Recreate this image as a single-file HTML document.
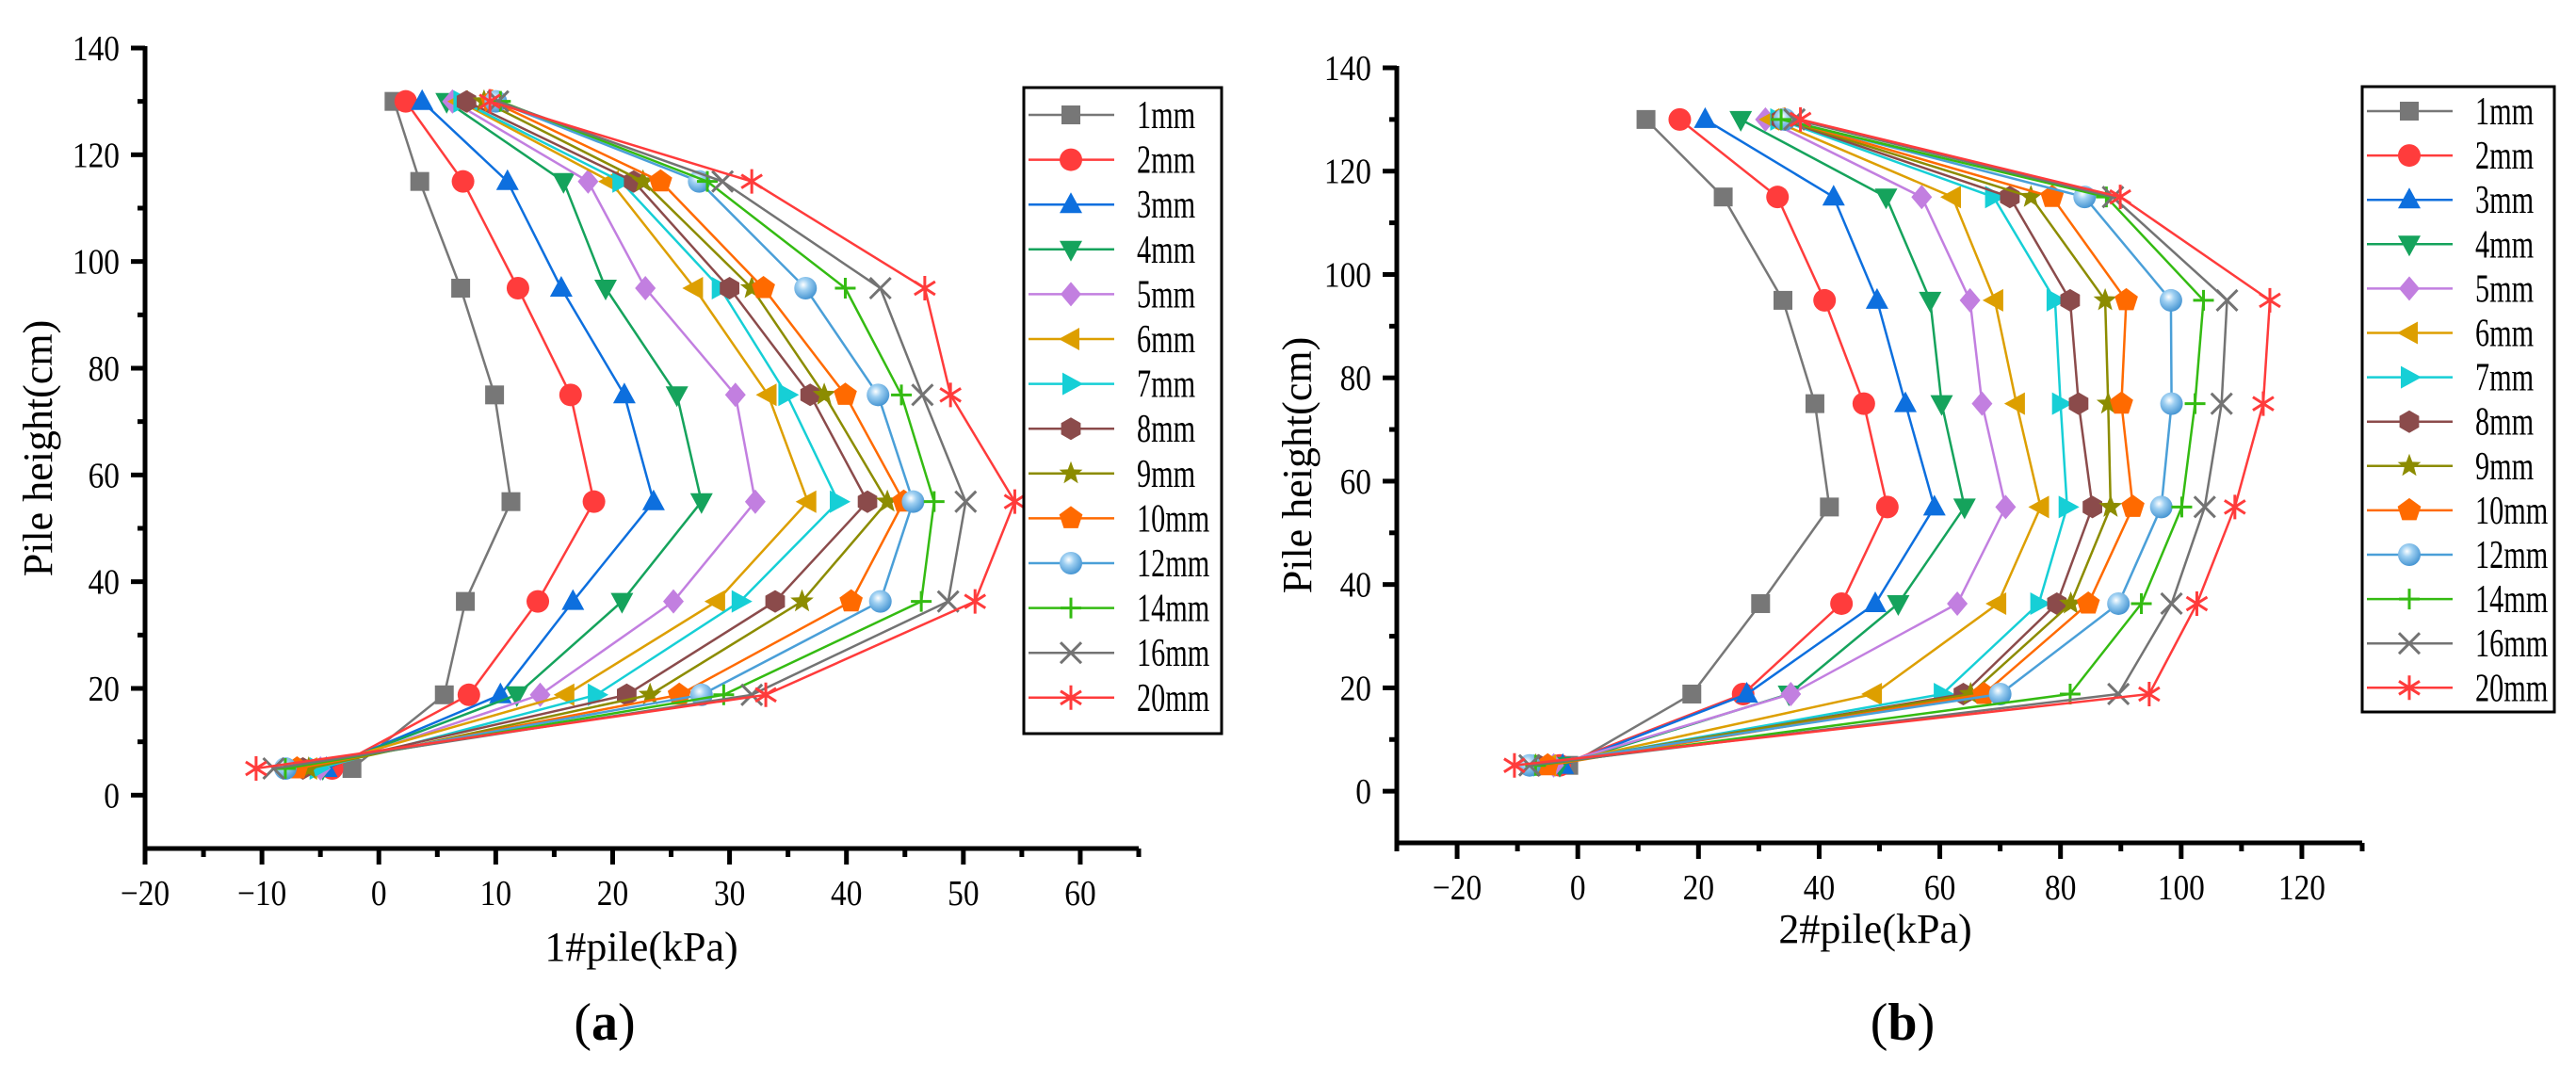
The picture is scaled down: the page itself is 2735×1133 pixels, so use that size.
<!DOCTYPE html>
<html><head><meta charset="utf-8"><title>Pile pressure charts</title>
<style>
html,body{margin:0;padding:0;background:#fff;}
svg{display:block;}
text{font-family:"Liberation Serif",serif;fill:#000;}
</style></head>
<body>
<svg id="chart" width="2735" height="1133" viewBox="0 0 2735 1133" xmlns="http://www.w3.org/2000/svg">
<defs>
<radialGradient id="sph" cx="0.4" cy="0.35" r="0.7">
<stop offset="0" stop-color="#ffffff"/><stop offset="0.35" stop-color="#9fd0f2"/><stop offset="1" stop-color="#3d8fcf"/>
</radialGradient>
</defs>
</svg>
<script>
// ---- shared data ----
const heights = [130, 115, 95, 75, 55, 36.3, 18.8, 5];
const seriesNames = ['1mm','2mm','3mm','4mm','5mm','6mm','7mm','8mm','9mm','10mm','12mm','14mm','16mm','20mm'];
// ---- panel (a): 1#pile values (kPa) ----
const a1mm = [1.3, 3.5, 7.0, 9.9, 11.3, 7.4, 5.6, -2.3];
const a2mm = [2.3, 7.2, 11.9, 16.4, 18.4, 13.6, 7.7, -4.0];
const a3mm = [3.7, 11.0, 15.6, 21.0, 23.5, 16.6, 10.4, -4.5];
const a4mm = [5.8, 15.8, 19.4, 25.5, 27.6, 20.8, 11.8, -4.8];
const a5mm = [6.3, 17.9, 22.8, 30.5, 32.2, 25.2, 13.8, -5.0];
const a6mm = [6.9, 19.8, 27.0, 33.3, 36.7, 28.9, 16.0, -6.0];
const a7mm = [7.1, 20.7, 29.2, 34.9, 39.3, 30.9, 18.6, -5.2];
const a8mm = [7.5, 21.8, 30.0, 36.9, 41.8, 33.9, 21.2, -6.5];
const a9mm = [9.0, 22.6, 31.9, 38.1, 43.5, 36.2, 23.2, -6.0];
const a10mm = [9.7, 24.1, 32.9, 39.9, 44.9, 40.4, 25.7, -7.0];
const a12mm = [10.0, 27.4, 36.5, 42.7, 45.7, 42.9, 27.6, -8.0];
const a14mm = [10.4, 28.1, 39.9, 44.7, 47.5, 46.4, 29.5, -8.0];
const a16mm = [10.2, 29.4, 42.9, 46.5, 50.2, 48.7, 31.9, -9.0];
const a20mm = [9.5, 31.9, 46.7, 48.9, 54.4, 51.0, 33.1, -10.5];
// ---- panel (b): 2#pile values (kPa) ----
const b1mm = [11.3, 24.1, 34.0, 39.3, 41.7, 30.3, 18.9, -1.5];
const b2mm = [16.9, 33.1, 40.9, 47.4, 51.3, 43.7, 27.4, -3.0];
const b3mm = [21.1, 42.4, 49.6, 54.3, 59.1, 49.3, 28.0, -2.5];
const b4mm = [27.0, 51.1, 58.4, 60.3, 64.1, 53.1, 35.0, -3.0];
const b5mm = [31.1, 57.0, 65.0, 67.0, 70.9, 62.9, 35.3, -4.0];
const b6mm = [32.0, 62.1, 69.1, 72.7, 76.7, 69.6, 49.0, -5.0];
const b7mm = [33.3, 68.9, 79.1, 80.0, 81.1, 76.4, 60.4, -6.0];
const b8mm = [33.7, 71.6, 81.6, 83.0, 85.3, 79.4, 63.9, -6.5];
const b9mm = [34.0, 75.1, 87.4, 87.9, 88.3, 81.7, 65.1, -7.0];
const b10mm = [34.3, 78.6, 90.9, 90.1, 92.0, 84.6, 67.3, -5.0];
const b12mm = [34.3, 84.0, 98.3, 98.4, 96.7, 89.6, 70.0, -8.0];
const b14mm = [33.7, 87.6, 103.7, 102.3, 100.1, 93.4, 81.6, -7.0];
const b16mm = [35.9, 88.7, 107.6, 106.7, 103.9, 98.4, 89.6, -8.0];
const b20mm = [36.9, 89.9, 114.7, 113.6, 108.9, 102.6, 94.7, -10.5];
const aTicksX = [-20,-10,0,10,20,30,40,50,60];
const bTicksX = [-20,0,20,40,60,80,100,120];
const ticksY = [0,20,40,60,80,100,120,140];

const colors = ['#777777','#ff3c3c','#0d6fde','#15a35c','#c27fe0','#dd9f00','#16cfd6','#8b4b4b','#8c8c00','#ff6a00','#4a9fd8','#34bb12','#737373','#ff3b3b'];
const shapes = ['square','circle','up','down','diamond','left','right','hex','star','pent','sphere','plus','x','ast'];

const NS='http://www.w3.org/2000/svg';
const FF='"Liberation Serif", serif';
const svg=document.getElementById('chart');
function el(tag,attrs,parent){const e=document.createElementNS(NS,tag);for(const k in attrs)e.setAttribute(k,attrs[k]);(parent||svg).appendChild(e);return e;}
function txt(s,x,y,size,anchor,sx,parent){const t=el('text',{transform:`translate(${x},${y}) scale(${sx},1)`,x:0,y:0,'font-size':size,'text-anchor':anchor,'font-family':FF},parent);t.textContent=s;return t;}
function poly(pts){return pts.map(p=>p[0].toFixed(1)+','+p[1].toFixed(1)).join(' ');}
function regular(n,cx,cy,r,rot){const a=[];for(let i=0;i<n;i++){const t=rot+i*2*Math.PI/n;a.push([cx+r*Math.cos(t),cy+r*Math.sin(t)]);}return a;}

function marker(g,shape,cx,cy,c){
  switch(shape){
    case 'square': return el('rect',{x:cx-10,y:cy-10,width:20,height:20,fill:c},g);
    case 'circle': return el('circle',{cx,cy,r:12,fill:c},g);
    case 'up': return el('polygon',{points:poly([[cx,cy-13],[cx+12,cy+9],[cx-12,cy+9]]),fill:c},g);
    case 'down': return el('polygon',{points:poly([[cx,cy+13],[cx+12,cy-9],[cx-12,cy-9]]),fill:c},g);
    case 'left': return el('polygon',{points:poly([[cx-13,cy],[cx+9,cy-12],[cx+9,cy+12]]),fill:c},g);
    case 'right': return el('polygon',{points:poly([[cx+13,cy],[cx-9,cy-12],[cx-9,cy+12]]),fill:c},g);
    case 'diamond': return el('polygon',{points:poly([[cx,cy-13],[cx+11,cy],[cx,cy+13],[cx-11,cy]]),fill:c},g);
    case 'hex': return el('polygon',{points:poly(regular(6,cx,cy,12,-Math.PI/2)),fill:c},g);
    case 'pent': return el('polygon',{points:poly(regular(5,cx,cy,13,-Math.PI/2)),fill:c},g);
    case 'star': {const p=[];for(let i=0;i<10;i++){const rr=i%2?5.5:13;const t=-Math.PI/2+i*Math.PI/5;p.push([cx+rr*Math.cos(t),cy+rr*Math.sin(t)]);}return el('polygon',{points:poly(p),fill:c},g);}
    case 'sphere': return el('circle',{cx,cy,r:12,fill:'url(#sph)'},g);
    case 'plus': return el('path',{d:`M${cx-11},${cy}H${cx+11}M${cx},${cy-11}V${cy+11}`,stroke:c,'stroke-width':3,fill:'none'},g);
    case 'x': return el('path',{d:`M${cx-11},${cy-11}L${cx+11},${cy+11}M${cx-11},${cy+11}L${cx+11},${cy-11}`,stroke:c,'stroke-width':3,fill:'none'},g);
    case 'ast': return el('path',{d:`M${cx},${cy-13}V${cy+13}M${cx-11},${cy-7}L${cx+11},${cy+7}M${cx-11},${cy+7}L${cx+11},${cy-7}`,stroke:c,'stroke-width':3,fill:'none'},g);
  }
}

function drawPanel(p){
  const g=el('g',{});
  
  
  const X=v=>p.x0+(v-p.xmin)*(p.x1-p.x0)/(p.xmax-p.xmin);
  const Y=v=>p.y0-(v-p.ymin)*(p.y0-p.y1)/(p.ymax-p.ymin);
  const ax=el('g',{},g);
  
  
  el('line',{x1:p.x0,y1:p.y0,x2:p.x1,y2:p.y0,stroke:'#000','stroke-width':5},ax);
  el('line',{x1:p.x0,y1:p.y0+2.5,x2:p.x0,y2:p.y1-2,stroke:'#000','stroke-width':5},ax);
  for(let v=p.xmin;v<=p.xmax+1e-6;v+=p.xminor){
    const major=p.ticksX.includes(Math.round(v*100)/100);
    el('line',{x1:X(v),y1:p.y0,x2:X(v),y2:p.y0+(major?17:9),stroke:'#000','stroke-width':5},ax);
  }
  p.ticksX.forEach(v=>{const t=txt(v<0?'\u2212'+Math.abs(v):String(v),X(v),p.y0+60,38,'middle',0.88,ax);});
  for(let v=0;v<=p.ymax;v+=10){
    const major=v%20===0;
    el('line',{x1:p.x0,y1:Y(v),x2:p.x0-(major?15:8),y2:Y(v),stroke:'#000','stroke-width':5},ax);
  }
  ticksY.forEach(v=>{const t=txt(String(v),p.x0-27,Y(v)+13,38,'end',0.88,ax);});
  const xt=txt(p.xtitle,p.xtx,p.xty,44,'middle',1,g);
  
  
  const yt=el('text',{transform:`translate(${p.ytx},${p.yty}) rotate(-90)`,x:0,y:0,'font-size':44,'text-anchor':'middle','font-family':FF},g);
  yt.textContent='Pile height(cm)';
  
  
  const cap=el('text',{x:p.capx,y:p.capy,'font-size':56,'text-anchor':'middle','font-family':FF},g);
  cap.innerHTML='(<tspan font-weight="bold">'+p.cap+'</tspan>)';
  
  
  p.series.forEach((vals,i)=>{
    const sg=el('g',{},g);
    
    
    el('polyline',{points:poly(vals.map((v,j)=>[X(v),Y(heights[j])])),fill:'none',stroke:colors[i],'stroke-width':2.5},sg);
    vals.forEach((v,j)=>{const m=marker(sg,shapes[i],X(v),Y(heights[j]),colors[i]);
      
      });
  });
  const lg=el('g',{},g);
  
  
  el('rect',{x:p.lx,y:p.ly,width:p.lw,height:p.lh,fill:'#fff',stroke:'#000','stroke-width':3},lg);
  seriesNames.forEach((n,i)=>{
    const cy=p.ly+p.lfirst+i*p.lstep;
    const eg=el('g',{},lg);
    
    
    el('line',{x1:p.lx+5,y1:cy,x2:p.lx+96,y2:cy,stroke:colors[i],'stroke-width':2.5},eg);
    marker(eg,shapes[i],p.lx+50,cy,colors[i]);
    txt(n,p.lx+120,cy+14,42,'start',0.72,eg);
  });
}

drawPanel({key:'pile1',xmin:-20,xmax:65,ymin:-10,ymax:140,x0:154,x1:1209,y0:901,y1:51,
  ticksX:aTicksX,xminor:5,xtitle:'1#pile(kPa)',xtx:681,xty:1020,ytx:55,yty:476,cap:'a',capx:642,capy:1104,
  series:[a1mm,a2mm,a3mm,a4mm,a5mm,a6mm,a7mm,a8mm,a9mm,a10mm,a12mm,a14mm,a16mm,a20mm],
  lx:1087,ly:93,lw:210,lh:686,lfirst:29,lstep:47.6});
drawPanel({key:'pile2',xmin:-30,xmax:130,ymin:-10,ymax:140,x0:1483,x1:2508,y0:895,y1:72,
  ticksX:bTicksX,xminor:10,xtitle:'2#pile(kPa)',xtx:1991,xty:1001,ytx:1392,yty:494,cap:'b',capx:2020,capy:1104,
  series:[b1mm,b2mm,b3mm,b4mm,b5mm,b6mm,b7mm,b8mm,b9mm,b10mm,b12mm,b14mm,b16mm,b20mm],
  lx:2508,ly:92,lw:204,lh:664,lfirst:26,lstep:47.1});
</script>
</body></html>
